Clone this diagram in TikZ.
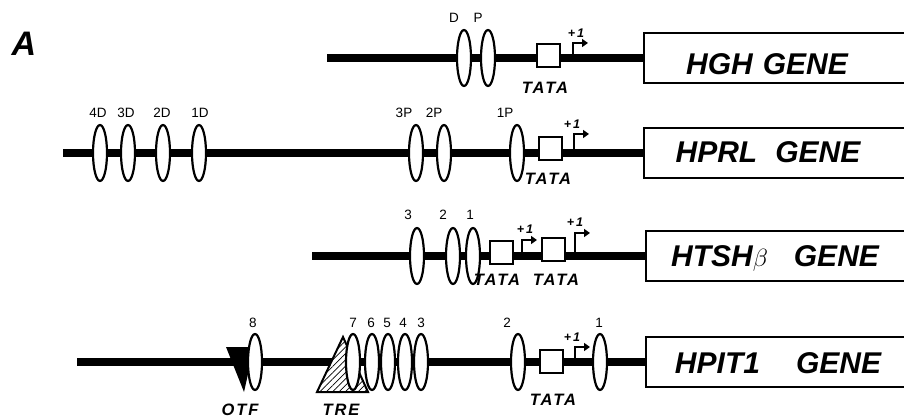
\documentclass[tikz,border=0pt]{standalone}
\usepackage{fontspec}
\setmainfont{Liberation Sans}
\newfontfamily\spacedfont[LetterSpace=12]{Liberation Sans}
\usetikzlibrary{shapes.geometric,backgrounds,patterns.meta,arrows.meta}

\tikzset{
  dna/.style={line width=8pt},
  site/.style={ellipse, draw, fill=white, line width=2.2pt, minimum width=14pt, minimum height=56pt, inner sep=0pt},
  tata/.style={rectangle, draw, fill=white, line width=2pt, minimum width=23pt, minimum height=23pt, inner sep=0pt},
  genebox/.style={rectangle, draw, fill=white, line width=2.4pt, minimum width=300pt, minimum height=50pt, anchor=west, inner sep=0pt},
  genetxt/.style={font=\bfseries\itshape\fontsize{30}{30}\selectfont, inner sep=0pt},
  lbl/.style={font=\fontsize{13.5}{13.5}\selectfont, inner sep=0pt},
  tlbl/.style={font=\spacedfont\bfseries\itshape\fontsize{16.5}{16.5}\selectfont, inner sep=0pt},
  plus/.style={font=\bfseries\itshape\fontsize{12.5}{12.5}\selectfont, inner sep=0pt},
  tss/.style={line width=2pt, -{Triangle[length=6pt,width=8pt]}},
  hatched/.style={line width=2pt, fill=white, postaction={pattern={Lines[angle=45,distance=4.5pt,line width=0.7pt]}}},
}

\begin{document}
\begin{tikzpicture}[x=1pt,y=-1pt]
\useasboundingbox (0,0) rectangle (904,419);
\begin{scope}
\clip (0,0) rectangle (904,419);

\node[font=\bfseries\itshape\fontsize{34}{34}\selectfont, inner sep=0pt] (panel) at (24,44) {A};

% ---- HGH ----
\coordinate (s1) at (327,58);
\node[genebox] (g1) at (643,58) {};
\node[genetxt] (g1t) at (767,64) {HGH\hspace{10pt}GENE};
\node[site] (hghD) at (464,58) {};
\node[site] (hghP) at (488,58) {};
\node[lbl] (hghDl) at (454,18) {D};
\node[lbl] (hghPl) at (478,18) {P};
\node[tata] (tb1) at (548,56) {};
\node[tlbl] (tt1) at (545,88) {TATA};
\coordinate (ts1) at (573,58);
\draw[tss] (ts1) |- ++(15,-15);
\node[plus] (pl1) at (576,33) {+\,1};

% ---- HPRL ----
\coordinate (s2) at (63,153);
\node[genebox] (g2) at (643,153) {};
\node[genetxt] (g2t) at (768,152) {HPRL\hspace{18pt}GENE};
\foreach \x/\n in {100/4D,128/3D,163/2D,199/1D,416/3P,444/2P,517/1P}
  \node[site] (prl\n) at (\x,153) {};
\node[lbl] (prl4Dl) at (98,113) {4D};
\node[lbl] (prl3Dl) at (126,113) {3D};
\node[lbl] (prl2Dl) at (162,113) {2D};
\node[lbl] (prl1Dl) at (200,113) {1D};
\node[lbl] (prl3Pl) at (404,113) {3P};
\node[lbl] (prl2Pl) at (434,113) {2P};
\node[lbl] (prl1Pl) at (505,113) {1P};
\node[tata] (tb2) at (550,149) {};
\node[tlbl] (tt2) at (548,179) {TATA};
\coordinate (ts2) at (574,153);
\draw[tss] (ts2) |- ++(15,-19);
\node[plus] (pl2) at (572,124) {+\,1};

% ---- HTSH beta ----
\coordinate (s3) at (312,256);
\node[genebox] (g3) at (645,256) {};
\node[genetxt] (g3t) at (775,258) {HTSH$\beta$\hspace{26pt}GENE};
\node[site] (tsh3) at (417,256) {};
\node[site] (tsh2) at (453,256) {};
\node[site] (tsh1) at (473,256) {};
\node[lbl] (tsh3l) at (408,215) {3};
\node[lbl] (tsh2l) at (443,215) {2};
\node[lbl] (tsh1l) at (470,215) {1};
\node[tata] (tb3a) at (501,253) {};
\node[tata] (tb3b) at (553,250) {};
\node[tlbl] (tt3a) at (497,280) {TATA};
\node[tlbl] (tt3b) at (556,280) {TATA};
\coordinate (ts3a) at (522,256);
\draw[tss] (ts3a) |- ++(15,-16);
\node[plus] (pl3a) at (525,229) {+\,1};
\coordinate (ts3b) at (575,256);
\draw[tss] (ts3b) |- ++(15,-23);
\node[plus] (pl3b) at (575,222) {+\,1};

% ---- HPIT1 ----
\coordinate (s4) at (77,362);
\node[genebox] (g4) at (645,362) {};
\node[genetxt] (g4t) at (778,363) {HPIT1\hspace{36pt}GENE};
% OTF element
\fill (226,347) -- (254,347) -- (244,392) -- cycle;
\node[site] (pit8) at (255,362) {};
% TRE element
\draw[hatched] (317,392) -- (343,337) -- (368,392) -- cycle;
\foreach \x/\n in {353/7,372/6,388/5,405/4,421/3,518/2,600/1}
  \node[site] (pit\n) at (\x,362) {};
\node[lbl] (pit8l) at (253,323) {8};
\node[lbl] (pit7l) at (353,323) {7};
\node[lbl] (pit6l) at (371,323) {6};
\node[lbl] (pit5l) at (387,323) {5};
\node[lbl] (pit4l) at (403,323) {4};
\node[lbl] (pit3l) at (421,323) {3};
\node[lbl] (pit2l) at (507,323) {2};
\node[lbl] (pit1l) at (599,323) {1};
\node[tata] (tb4) at (551,361) {};
\node[tlbl] (tt4) at (553,400) {TATA};
\coordinate (ts4) at (575,362);
\draw[tss] (ts4) |- ++(15,-15);
\node[plus] (pl4) at (572,337) {+\,1};
\node[tlbl] (otf) at (240,410) {OTF};
\node[tlbl] (tre) at (341,410) {TRE};
\end{scope}

% DNA strands behind the elements
\begin{pgfonlayer}{background}
  \draw[dna] (s1) -- (g1.west);
  \draw[dna] (s2) -- (g2.west);
  \draw[dna] (s3) -- (g3.west);
  \draw[dna] (s4) -- (g4.west);
\end{pgfonlayer}
\end{tikzpicture}
\end{document}
